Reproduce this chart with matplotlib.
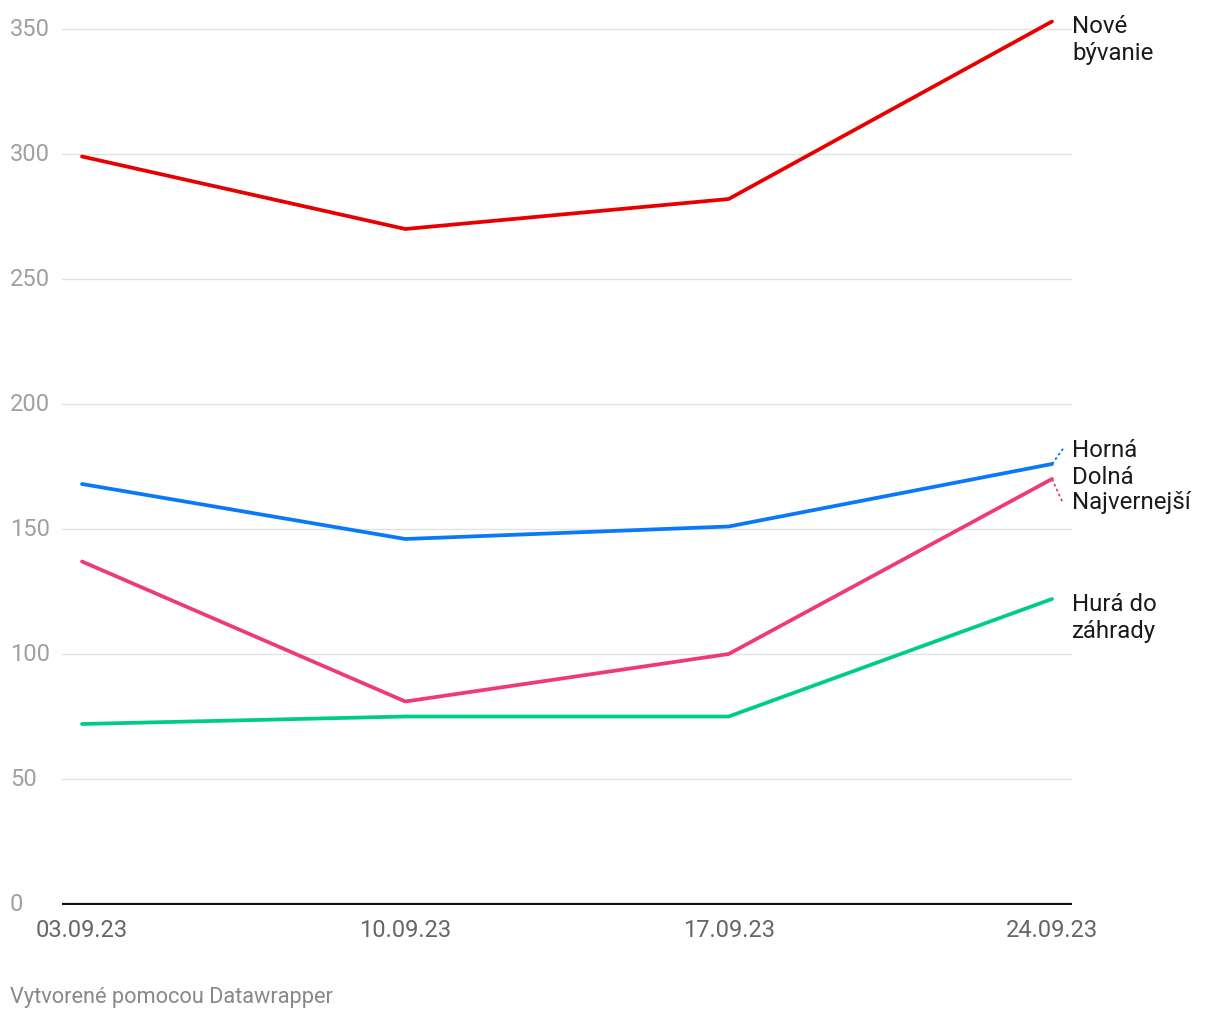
import matplotlib.pyplot as plt
from matplotlib.transforms import blended_transform_factory

plt.rcParams['font.family'] = ['Roboto', 'DejaVu Sans']

dates = ["03.09.23", "10.09.23", "17.09.23", "24.09.23"]
nove_byvanie = [299, 270, 282, 353]
horna_dolna = [168, 146, 151, 176]
najvernejsi = [137, 81, 100, 170]
hura_do_zahrady = [72, 75, 75, 122]

yticks = [0, 50, 100, 150, 200, 250, 300, 350]

series = [
	(nove_byvanie, "#e80000", ["Nové", "bývanie"], 351.2, False),
	(horna_dolna, "#0a78fa", ["Horná", "Dolná"], 181.6, True),
	(najvernejsi, "#ee3a76", ["Najvernejší"], 160.8, True),
	(hura_do_zahrady, "#00cc8a", ["Hurá do", "záhrady"], 120.0, False),
]

W, H = 1220, 1020
fig = plt.figure(figsize=(W / 100, H / 100), dpi=100)
ax = fig.add_axes([62 / W, 1 - 906 / H, (1072 - 62) / W, (906 - 16) / H])

x = list(range(len(dates)))
pad = 20 / 323.33
ax.set_xlim(-pad, len(dates) - 1 + pad)
ax.set_ylim(-0.4, (906 - 16) / 2.5 - 0.4)

for v in yticks[1:]:
	ax.axhline(v, color="#e2e2e2", lw=1, zorder=1)
ax.axhline(0, color="#111111", lw=1.6, zorder=3)

for vals, col, lab, ly, dotted in series:
	ax.plot(x, vals, color=col, lw=2.7, solid_capstyle="round", solid_joinstyle="round", zorder=4)
	if dotted:
		# connector from last point to the moved label
		ax.plot([x[-1], x[-1] + 11 / 323.33], [vals[-1], ly + (1 if ly > vals[-1] else -1) * 0.5],
				color=col, lw=1.3, ls=(0, (1.5, 1.5)), clip_on=False, zorder=4)
	for i, line in enumerate(lab):
		ax.text(x[-1] + 20 / 323.33, ly - i * 27 / 2.5, line, fontsize=17.3, color="#1a1a1a",
				va="center", ha="left", clip_on=False)

ax.set_xticks([])
ax.set_yticks([])
for s in ax.spines.values():
	s.set_visible(False)

tr = blended_transform_factory(fig.transFigure, ax.transData)
for v in yticks:
	ax.text(10 / W, v, str(v), transform=tr, fontsize=17, color="#a0a0a0", va="center", ha="left")

for xi, d in zip(x, dates):
	ax.text(xi, -(930 - 904) / 2.5, d, fontsize=17, color="#666666", va="center", ha="center")

fig.text(10 / W, 1 - 998 / H, "Vytvorené pomocou Datawrapper", fontsize=15.7, color="#888888", va="center", ha="left")

fig.savefig("out.png", dpi=100)
